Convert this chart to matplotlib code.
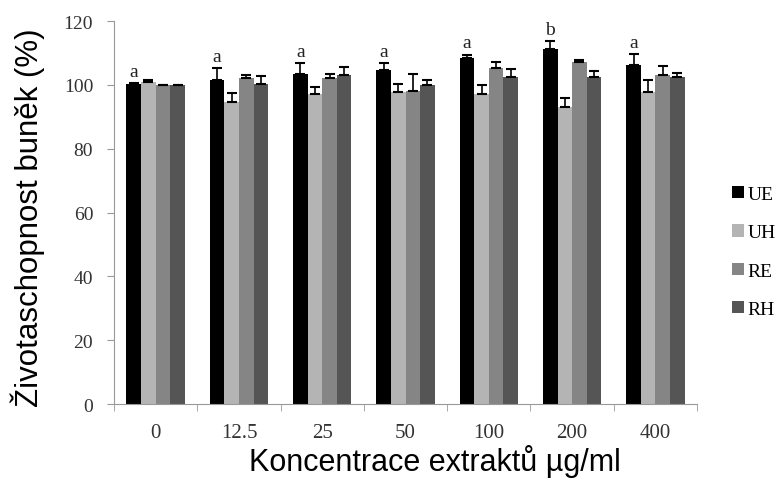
import numpy as np
import matplotlib.pyplot as plt

categories = ["0", "12.5", "25", "50", "100", "200", "400"]
series = ["UE", "UH", "RE", "RH"]

ue = [100.2, 101.5, 103.5, 104.8, 108.5, 111.3, 106.2]
uh = [101.0, 94.8, 97.1, 97.9, 97.1, 93.0, 97.9]
re = [100.0, 102.3, 102.3, 98.1, 105.4, 107.2, 103.1]
rh = [100.0, 100.2, 103.1, 100.0, 102.5, 102.5, 102.5]

ue_err = [0.5, 3.7, 3.3, 2.0, 1.0, 2.5, 3.5]
uh_err = [0.5, 2.8, 2.3, 2.5, 3.0, 3.0, 3.5]
re_err = [0.0, 0.8, 1.2, 5.4, 1.7, 0.5, 2.8]
rh_err = [0.0, 2.5, 2.6, 1.4, 2.6, 2.0, 1.2]

letters = ["a", "a", "a", "a", "a", "b", "a"]

values = [ue, uh, re, rh]
errors = [ue_err, uh_err, re_err, rh_err]
colors = ["#000000", "#b4b4b4", "#858585", "#555555"]

serif = ["Liberation Serif", "DejaVu Serif"]
sans = ["Liberation Sans", "DejaVu Sans"]

fig = plt.figure(figsize=(7.83, 4.81), dpi=100)
ax = fig.add_axes([0.1456, 0.158, 0.7446, 0.796])

x = np.arange(len(categories))
w = 0.175
for i, (vals, errs, c, name) in enumerate(zip(values, errors, colors, series)):
    pos = x + (i - 1.5) * w
    ax.bar(pos, vals, width=w, color=c, label=name, zorder=2)
    ax.errorbar(pos, vals, yerr=[np.zeros(len(errs)), errs], fmt="none",
                ecolor="black", elinewidth=1.2, capsize=3.5, capthick=1.5, zorder=3)

# significance letters above UE bars
for xi, v, e, t in zip(x, ue, ue_err, letters):
    ax.text(xi - 1.5 * w, v + e + 1.0, t, ha="center", va="bottom",
            fontsize=14, family=serif, color="#222222")

ax.set_xlim(-0.5, len(categories) - 0.5)
ax.set_ylim(0, 120)
ax.set_yticks(np.arange(0, 121, 20))
ax.set_xticks(x)
ax.set_xticklabels(categories)
ax.set_xticks(np.arange(-0.5, len(categories), 1), minor=True)
ax.tick_params(axis="x", which="major", length=0, pad=14)
ax.tick_params(axis="x", which="minor", length=5, color="#999999")
ax.tick_params(axis="y", length=5, color="#999999", pad=10)
for lab in ax.get_xticklabels() + ax.get_yticklabels():
    lab.set_family(serif)
    lab.set_fontsize(14)
    lab.set_color("#333333")
for lab in ax.get_xticklabels():
    lab.set_fontsize(15)

for s in ["top", "right"]:
    ax.spines[s].set_visible(False)
for s in ["left", "bottom"]:
    ax.spines[s].set_color("#999999")

ax.set_xlabel("Koncentrace extraktů µg/ml", family=sans, fontsize=22)
ax.xaxis.set_label_coords(0.55, -0.105)
ax.set_ylabel("Životaschopnost buněk (%)", family=sans, fontsize=22.5)
ax.yaxis.set_label_coords(-0.118, 0.49)

ax.legend(loc="center left", bbox_to_anchor=(1.03, 0.397), frameon=False,
          prop={"family": serif, "size": 14}, handlelength=0.6,
          handleheight=0.6, handletextpad=0.2, labelspacing=1.1)

fig.savefig("out.png", dpi=100)
